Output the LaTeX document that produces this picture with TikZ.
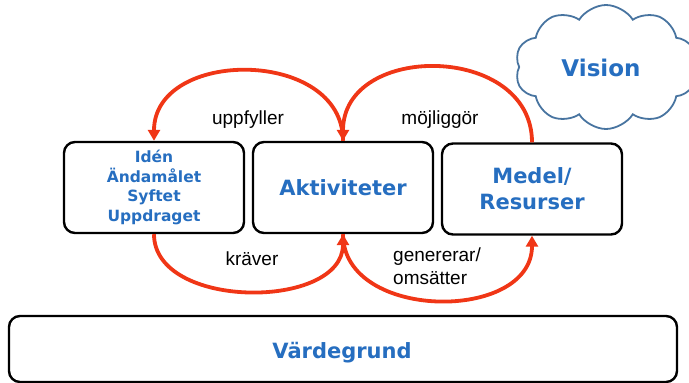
\documentclass[tikz,border=0pt]{standalone}
\usepackage{fontspec}
\setmainfont{Liberation Sans}
\newfontfamily\boldfont{DejaVu Sans}
\usetikzlibrary{shapes.symbols,arrows.meta}
\definecolor{myred}{RGB}{240,54,22}
\definecolor{myblue}{RGB}{38,110,192}
\definecolor{cloudblue}{RGB}{72,116,160}
\tikzset{
  mybox/.style={draw=black, line width=2.4pt, rounded corners=11pt, fill=white},
  bluetext/.style={text=myblue, font=\boldfont\bfseries},
  redarrow/.style={draw=myred, line width=3.8pt, -{Triangle[length=11pt,width=12pt]}},
  lbl/.style={font=\fontsize{19}{22}\selectfont, text=black, inner sep=0pt}
}
\begin{document}
\begin{tikzpicture}[x=1pt,y=-1pt]
\useasboundingbox (0,0) rectangle (689,383);
\clip (0,0) rectangle (689,383);
% boxes
\node[mybox, minimum width=180pt, minimum height=91pt, bluetext, align=center,
      font=\boldfont\bfseries\fontsize{15.5}{19.5}\selectfont] (iden) at (154,187.5)
      {Idén\\Ändamålet\\Syftet\\Uppdraget};
\node[mybox, minimum width=180pt, minimum height=91pt, bluetext,
      font=\boldfont\bfseries\fontsize{21}{26}\selectfont] (akt) at (343,187.5) {Aktiviteter};
\node[mybox, minimum width=180pt, minimum height=91pt, bluetext, align=center,
      font=\boldfont\bfseries\fontsize{21}{26}\selectfont] (medel) at (532,189) {Medel/\\Resurser};
\node[mybox, minimum width=668pt, minimum height=66pt] (vard) at (343,349) {};
\node[bluetext, font=\boldfont\bfseries\fontsize{21}{26}\selectfont] (vardtxt) at (342,353) {Värdegrund};
% cloud
\node[cloud, cloud puffs=10, cloud puff arc=115, aspect=1.45, draw=cloudblue, line width=1.8pt,
      minimum width=182pt, minimum height=124pt, inner sep=0pt] (cloud) at (606,67) {};
\node[bluetext, font=\boldfont\bfseries\fontsize{23}{26}\selectfont] (vision) at (601,68) {Vision};
% arrows
\draw[redarrow] (akt.north) .. controls +(0,-93) and +(0,-93) .. (iden.north);
\draw[redarrow] (medel.north) .. controls +(0,-99) and +(0,-99) .. (akt.north);
\draw[redarrow] (iden.south) .. controls +(0,76) and +(0,76) .. (akt.south);
\draw[redarrow] (akt.south) .. controls +(0,87) and +(0,87) .. (medel.south);
% labels
\node[lbl] (l1) at (248,120) {uppfyller};
\node[lbl] (l2) at (440,120) {möjliggör};
\node[lbl] (l3) at (252,259) {kräver};
\node[lbl, align=left, anchor=west, font=\fontsize{19}{22.5}\selectfont] (l4) at (393,266) {genererar/\\omsätter};
\end{tikzpicture}
\end{document}
